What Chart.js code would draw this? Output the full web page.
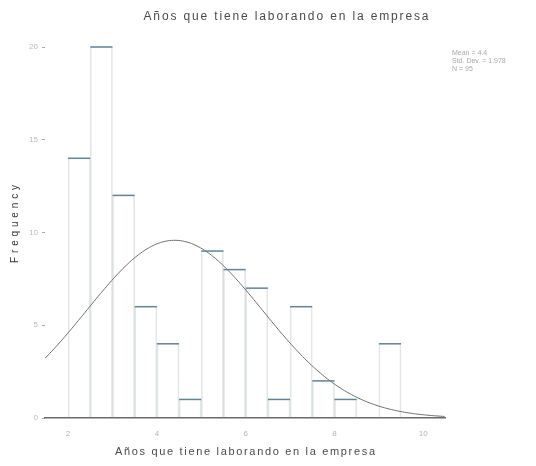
<!DOCTYPE html>
<html>
<head>
<meta charset="utf-8">
<script src="https://cdn.jsdelivr.net/npm/chart.js@4.4.1/dist/chart.umd.min.js"></script>
<style>
  html, body { margin: 0; padding: 0; background: #ffffff; }
  canvas { display: block; }
</style>
</head>
<body>
<canvas id="hist" width="536" height="466"></canvas>
<script>
// Histogram bins (lower edge of each 0.5-year class) and frequencies
const binStarts = [2.0, 2.5, 3.0, 3.5, 4.0, 4.5, 5.0, 5.5, 6.0, 6.5, 7.0, 7.5, 8.0, 8.5, 9.0];
const binWidth = 0.5;
const counts = [14, 20, 12, 6, 4, 1, 9, 8, 7, 1, 6, 2, 1, 0, 4];

// Axis ticks
const xTicks = [2, 4, 6, 8, 10];
const yTicks = [0, 5, 10, 15, 20];

// Summary statistics of the variable (used for the fitted normal curve)
const MEAN = 4.4;
const STD_DEV = 1.978;
const N = 95;
const statLines = ['Mean = 4.4', 'Std. Dev. = 1.978', 'N = 95'];

const chartTitle = 'Años que tiene laborando en la empresa';
const xTitle = 'Años que tiene laborando en la empresa';
const yTitle = 'Frequency';

const X_MIN = 1.48, X_MAX = 10.49;

// Bars centred on each class
const barPoints = counts.map((c, i) => ({ x: binStarts[i] + binWidth / 2, y: c }));

// Normal curve scaled to counts per class
const curvePoints = [];
for (let x = X_MIN; x <= X_MAX + 1e-9; x += 0.05) {
  const z = (x - MEAN) / STD_DEV;
  const y = N * binWidth * Math.exp(-0.5 * z * z) / (STD_DEV * Math.sqrt(2 * Math.PI));
  curvePoints.push({ x: x, y: y });
}

function spacedText(ctx, text, cx, cy, font, color, targetW) {
  ctx.save();
  ctx.font = font;
  ctx.fillStyle = color;
  ctx.textBaseline = 'middle';
  ctx.textAlign = 'left';
  ctx.letterSpacing = '0px';
  const w = ctx.measureText(text).width;
  const sp = Math.max(0, (targetW - w) / (text.length - 1));
  ctx.letterSpacing = sp + 'px';
  ctx.fillText(text, cx - targetW / 2, cy);
  ctx.restore();
}

// Draws bar tops, titles and the statistics block
const decorations = {
  id: 'decorations',
  afterDatasetsDraw(chart) {
    const ctx = chart.ctx;
    const meta = chart.getDatasetMeta(1);
    ctx.save();
    ctx.strokeStyle = '#5d8595';
    ctx.lineWidth = 1.5;
    meta.data.forEach((bar, i) => {
      if (counts[i] <= 0) return;
      const p = bar.getProps(['x', 'y', 'width'], true);
      ctx.beginPath();
      ctx.moveTo(p.x - p.width / 2, p.y);
      ctx.lineTo(p.x + p.width / 2, p.y);
      ctx.stroke();
    });
    ctx.restore();
  },
  afterDraw(chart) {
    const ctx = chart.ctx;
    const area = chart.chartArea;
    spacedText(ctx, chartTitle, 286, 17, '12px "Liberation Sans", Arial, sans-serif', '#4a4a4a', 285);
    spacedText(ctx, xTitle, (area.left + area.right) / 2, 452, '11px "Liberation Sans", Arial, sans-serif', '#4a4a4a', 260);

    ctx.save();
    ctx.translate(15, 224);
    ctx.rotate(-Math.PI / 2);
    spacedText(ctx, yTitle, 0, 0, '10px "Liberation Sans", Arial, sans-serif', '#333333', 78);
    ctx.restore();

    ctx.save();
    ctx.font = '7px "Liberation Sans", Arial, sans-serif';
    ctx.fillStyle = '#a8a8a8';
    ctx.textBaseline = 'middle';
    statLines.forEach((t, i) => ctx.fillText(t, 452, 53 + i * 8));
    ctx.restore();
  }
};

new Chart(document.getElementById('hist'), {
  type: 'bar',
  data: {
    datasets: [
      {
        type: 'line',
        data: curvePoints,
        borderColor: '#707070',
        borderWidth: 1,
        pointRadius: 0,
        tension: 0,
        fill: false,
        order: 0
      },
      {
        type: 'bar',
        data: barPoints,
        backgroundColor: 'rgba(255,255,255,0)',
        borderColor: 'rgba(160,175,175,0.3)',
        borderWidth: { left: 1, right: 1, top: 0, bottom: 0 },
        barPercentage: 1,
        categoryPercentage: 1,
        order: 1
      }
    ]
  },
  options: {
    responsive: false,
    animation: false,
    devicePixelRatio: 1,
    layout: { padding: { top: 47, right: 91, bottom: 0, left: 0 } },
    plugins: {
      legend: { display: false },
      tooltip: { enabled: false },
      title: { display: false }
    },
    scales: {
      x: {
        type: 'linear',
        min: X_MIN,
        max: X_MAX,
        offset: false,
        grid: { display: false },
        border: { display: true, color: '#6a6a6a', width: 1.5 },
        afterBuildTicks: s => { s.ticks = xTicks.map(v => ({ value: v })); },
        ticks: { color: '#b4b4b4', font: { size: 8, family: '"Liberation Sans", Arial, sans-serif' }, padding: 3, maxRotation: 0, autoSkip: false },
        afterFit: s => { s.height = 466 - 418; }
      },
      y: {
        min: 0,
        max: 20,
        grid: { display: true, drawOnChartArea: false, tickLength: 3, color: '#a8a8a8' },
        border: { display: false },
        afterBuildTicks: s => { s.ticks = yTicks.map(v => ({ value: v })); },
        ticks: { color: '#bababa', font: { size: 8, family: '"Liberation Sans", Arial, sans-serif' }, padding: 4 },
        afterFit: s => { s.width = 45; }
      }
    }
  },
  plugins: [decorations]
});
</script>
</body>
</html>
